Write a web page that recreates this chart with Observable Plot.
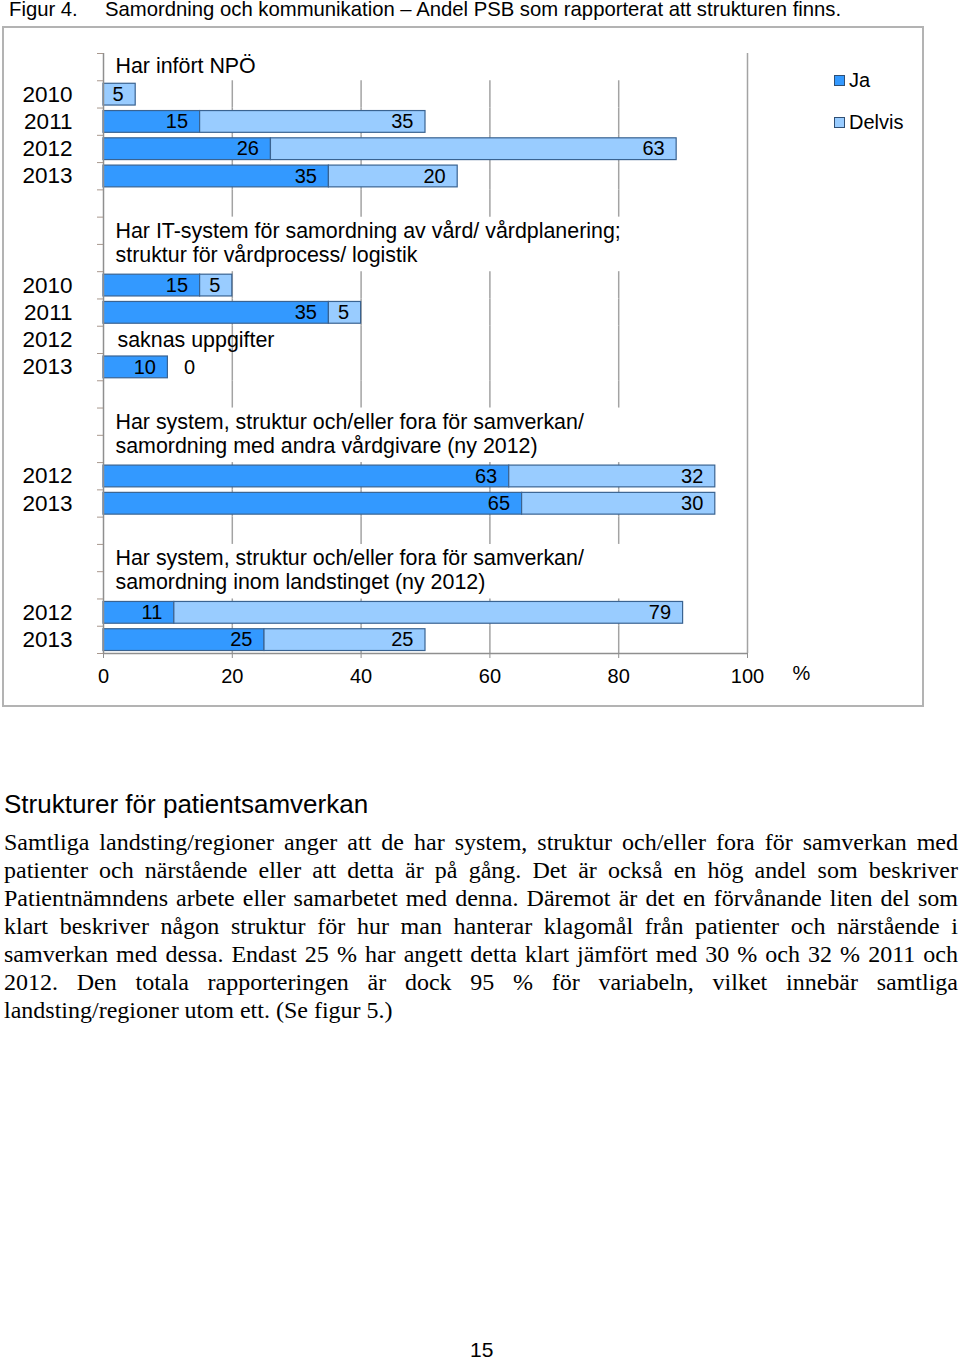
<!DOCTYPE html>
<html>
<head>
<meta charset="utf-8">
<script src="https://cdn.jsdelivr.net/npm/d3@7"></script>
<script src="https://cdn.jsdelivr.net/npm/@observablehq/plot@0.6"></script>
<style>
html, body { margin: 0; padding: 0; background: #fff; }
body { width: 960px; height: 1362px; position: relative; overflow: hidden; font-family: "Liberation Sans", Arial, sans-serif; color: #000; }
#fig-title { position: absolute; left: 9px; top: 0px; font-size: 20.3px; line-height: 18px; white-space: nowrap; }
#fig-title .num { display: inline-block; width: 96px; }
#box { position: absolute; left: 2px; top: 26px; width: 918px; height: 677px; border: 2px solid #b3b3b3; background: #fff; }
#chart svg { display: block; }
#legend { position: absolute; left: 834px; top: 68px; font-size: 20px; }
#legend .item { position: absolute; left: 0; display: flex; align-items: center; white-space: nowrap; height: 24px; }
#legend .sw { width: 9px; height: 9px; border: 1px solid #2f4f74; margin-right: 4px; }
#heading { position: absolute; left: 4px; top: 789px; margin: 0; font-size: 26px; font-weight: normal; line-height: 30px; white-space: nowrap; }
#para { position: absolute; left: 4px; top: 828px; width: 954px; font-family: "Liberation Serif", "Times New Roman", serif; font-size: 24px; line-height: 28px; }
#para .ln { white-space: nowrap; text-align: justify; text-align-last: justify; height: 28px; }
#para .ln.last { text-align: left; text-align-last: left; }
#pageno { position: absolute; left: 470px; top: 1338px; font-size: 21px; line-height: 24px; }
</style>
</head>
<body>
<div id="fig-title"><span class="num">Figur 4.</span><span>Samordning och kommunikation – Andel PSB som rapporterat att strukturen finns.</span></div>
<div id="box"><div id="chart"></div></div>
<div id="legend"></div>
<h2 id="heading">Strukturer för patientsamverkan</h2>
<div id="para"></div>
<div id="pageno">15</div>
<script>
// ---------- data ----------
const seriesNames = ["Ja", "Delvis"];
const seriesColors = ["#3399ff", "#99ccff"];

const groupTitles = [
  "Har infört NPÖ",
  "Har IT-system för samordning av vård/ vårdplanering;\nstruktur för vårdprocess/ logistik",
  "Har system, struktur och/eller fora för samverkan/\nsamordning med andra vårdgivare (ny 2012)",
  "Har system, struktur och/eller fora för samverkan/\nsamordning inom landstinget (ny 2012)"
];
const groupYears = [
  ["2010", "2011", "2012", "2013"],
  ["2010", "2011", "2012", "2013"],
  ["2012", "2013"],
  ["2012", "2013"]
];
const jaValues = [
  [null, 15, 26, 35],
  [15, 35, null, 10],
  [63, 65],
  [11, 25]
];
const delvisValues = [
  [5, 35, 63, 20],
  [5, 5, null, 0],
  [32, 30],
  [79, 25]
];
const groupNotes = [
  [null, null, null, null],
  [null, null, "saknas uppgifter", null],
  [null, null],
  [null, null]
];
const xTicks = [0, 20, 40, 60, 80, 100];
const axisUnit = "%";

const paraLines = [
  "Samtliga landsting/regioner anger att de har system, struktur och/eller fora för samverkan med",
  "patienter och närstående eller att detta är på gång. Det är också en hög andel som beskriver",
  "Patientnämndens arbete eller samarbetet med denna. Däremot är det en förvånande liten del som",
  "klart beskriver någon struktur för hur man hanterar klagomål från patienter och närstående i",
  "samverkan med dessa. Endast 25 % har angett detta klart jämfört med 30 % och 32 % 2011 och",
  "2012. Den totala rapporteringen är dock 95 % för variabeln, vilket innebär samtliga",
  "landsting/regioner utom ett. (Se figur 5.)"
];

// ---------- derive rows ----------
const bars = [], valueLabels = [], zeroLabels = [], titleMarks = [], yearTicks = [], noteMarks = [];
const titleRows = new Set();
let row = 0;
groupTitles.forEach((title, g) => {
  const lines = title.split("\n").length;
  titleMarks.push({title, y: row + lines / 2});
  for (let l = 0; l < lines; l++) titleRows.add(row + l);
  row += lines;
  groupYears[g].forEach((year, i) => {
    yearTicks.push({y: row + 0.5, year});
    const ja = jaValues[g][i], del = delvisValues[g][i];
    if (ja != null) {
      bars.push({series: "Ja", x1: 0, x2: ja, y1: row, y2: row + 1});
      if (ja > 0) valueLabels.push({x: ja, y: row + 0.5, v: ja});
    }
    if (del != null) {
      const s = ja ?? 0;
      if (del > 0) {
        bars.push({series: "Delvis", x1: s, x2: s + del, y1: row, y2: row + 1});
        valueLabels.push({x: s + del, y: row + 0.5, v: del});
      } else {
        zeroLabels.push({x: s, y: row + 0.5, v: del});
      }
    }
    if (groupNotes[g][i]) noteMarks.push({y: row + 0.5, note: groupNotes[g][i]});
    row++;
  });
  if (g < groupTitles.length - 1) row++;
});
const nRows = row;
const xMax = xTicks[xTicks.length - 1];
const yearMap = new Map(yearTicks.map(d => [d.y, d.year]));

// grid segments: interior gridlines are hidden behind the title boxes
const gridSegs = [];
xTicks.filter(t => t > 0).forEach(t => {
  if (t === xMax) gridSegs.push({x: t, y1: 0, y2: nRows});
  else for (let r = 0; r < nRows; r++) if (!titleRows.has(r)) gridSegs.push({x: t, y1: r, y2: r + 1});
});

const font = "'Liberation Sans', Arial, sans-serif";
const chart = Plot.plot({
  width: 918,
  height: 677,
  marginLeft: 99,
  marginRight: 175,
  marginTop: 25,
  marginBottom: 52,
  style: {fontFamily: font, fontSize: "20px", color: "#000", background: "#fff", overflow: "visible"},
  x: {domain: [0, xMax]},
  y: {domain: [nRows, 0]},
  color: {domain: seriesNames, range: seriesColors},
  marks: [
    Plot.ruleX(gridSegs, {x: "x", y1: "y1", y2: "y2", stroke: "#a3a3a3", strokeWidth: 1.5}),
    Plot.rect(bars, {x1: "x1", x2: "x2", y1: "y1", y2: "y2", fill: "series", stroke: "#3a6391", strokeWidth: 1.2, insetTop: 3, insetBottom: 2.5}),
    Plot.ruleX([0], {stroke: "#8f8f8f", strokeWidth: 1.5}),
    Plot.ruleY([nRows], {stroke: "#8f8f8f", strokeWidth: 1.5}),
    Plot.axisY({ticks: d3.range(0, nRows + 1), tickSize: 6, tickFormat: () => "", stroke: "#a8988e", label: null}),
    Plot.axisY({ticks: yearTicks.map(d => d.y), tickFormat: d => yearMap.get(d), tickSize: 0, tickPadding: 31, fontSize: 22.5, label: null}),
    Plot.axisX({ticks: xTicks, tickSize: 5, tickPadding: 10, fontSize: 20, label: null, stroke: "#8f8f8f"}),
    Plot.text(titleMarks, {x: 0, y: "y", text: "title", textAnchor: "start", dx: 12, dy: -2, fontSize: 21.4, lineHeight: 1.12, lineAnchor: "middle"}),
    Plot.text(valueLabels, {x: "x", y: "y", text: d => String(d.v), textAnchor: "end", dx: -12, fontSize: 20}),
    Plot.text(zeroLabels, {x: "x", y: "y", text: d => String(d.v), textAnchor: "start", dx: 16, fontSize: 20}),
    Plot.text(noteMarks, {x: 0, y: "y", text: "note", textAnchor: "start", dx: 14, fontSize: 21.4}),
    Plot.text([axisUnit], {x: xMax, y: nRows, text: d => d, dx: 54, dy: 20, fontSize: 20})
  ]
});
document.getElementById("chart").appendChild(chart);

// legend
const legend = d3.select("#legend");
seriesNames.forEach((name, i) => {
  const item = legend.append("div").attr("class", "item").style("top", `${i * 42}px`);
  item.append("div").attr("class", "sw").style("background", seriesColors[i]);
  item.append("span").text(name);
});

// paragraph
const para = d3.select("#para");
paraLines.forEach((t, i) => {
  para.append("div").attr("class", "ln" + (i === paraLines.length - 1 ? " last" : "")).text(t);
});
</script>
</body>
</html>
